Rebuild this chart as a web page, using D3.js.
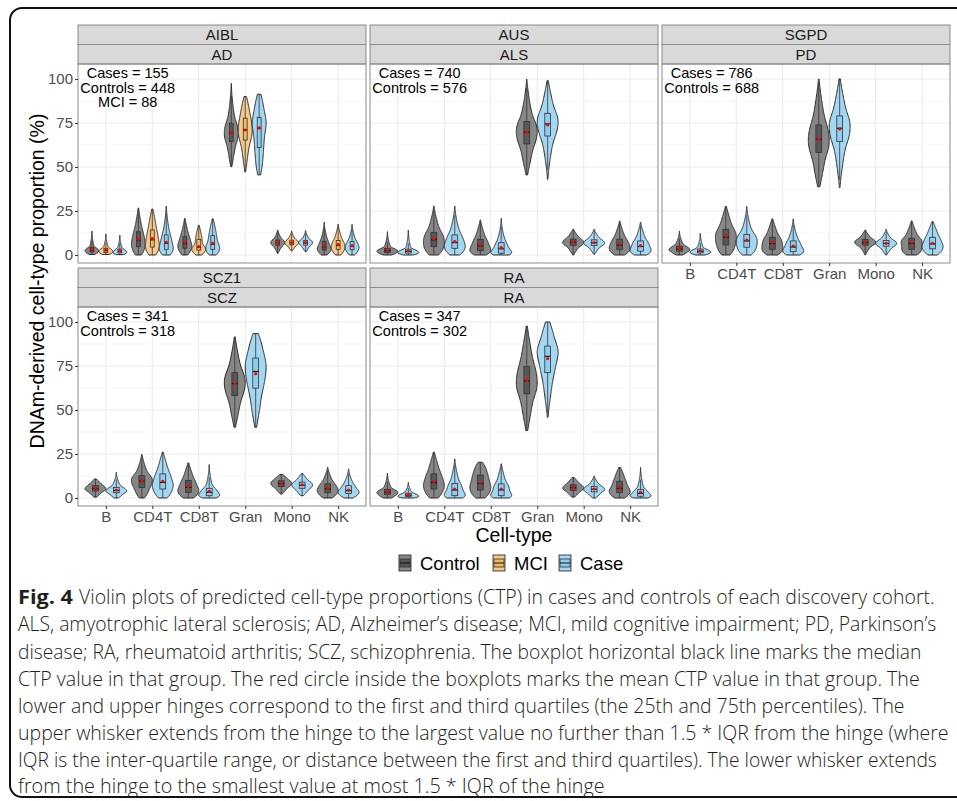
<!DOCTYPE html>
<html><head><meta charset="utf-8">
<script src="https://cdn.jsdelivr.net/npm/d3@7"></script>
<style>body{margin:0;background:#fff}svg{display:block}</style>
</head><body>
<svg id="c" width="957" height="801"></svg>
<script>
// ---------- data ----------
const cellTypes = ["B","CD4T","CD8T","Gran","Mono","NK"];
const cohorts = ["AIBL","AUS","SGPD","SCZ1","RA"];
const diseases = ["AD","ALS","PD","SCZ","RA"];
const annotations = [
  ["Cases = 155","Controls = 448","MCI = 88"],
  ["Cases = 740","Controls = 576"],
  ["Cases = 786","Controls = 688"],
  ["Cases = 341","Controls = 318"],
  ["Cases = 347","Controls = 302"]
];
const yTicks = [0,25,50,75,100];
const legendGroups = ["Control","MCI","Case"];
// each row: [min, q1, median, q3, max, mean] for B, CD4T, CD8T, Gran, Mono, NK
const aiblControl = [[0.3,1.8,2.8,4.2,13.6,3.2],[0,4.7,8.3,13.2,26.7,8.9],[0,3.8,6.5,10.4,20.8,7.2],[50.2,64.4,69.5,74.8,97.5,69.5],[1,5.5,7,8.5,14.2,7],[0,2.8,4.6,7.8,18.6,5.1]];
const aiblMCI     = [[0.3,1.5,2.5,3.8,11.9,2.8],[0,4.5,8.6,14.2,26.1,9.3],[0,2.8,4.3,8.9,16.9,4.7],[47.3,65.3,71.2,77.7,90,71.0],[2.4,5.8,7,8.4,13.6,7.1],[0,3.2,5.4,8.2,17.4,5.9]];
const aiblCase    = [[0.2,1.2,2.1,3.4,11.3,2.4],[0,3.2,6.6,11.4,27.8,7.2],[0,3.2,6.0,11,20.5,6.6],[45.5,61,72,78.2,91.3,72.2],[1.9,5.6,7,8.3,13.9,7],[0,3.0,5.0,7.6,17.4,5.3]];
const ausControl  = [[0,1.5,2.5,3.8,13.3,2.8],[0,4.7,8.6,12.9,27.8,9.3],[0,2.4,5.2,8.9,19.9,5.7],[45.5,63.1,69.7,75.8,99.8,69.7],[0,5.5,7.2,9,14.6,7.2],[0,3,5.6,9,19.3,6.1]];
const ausCase     = [[0,1.1,2.0,3.3,14.2,2.4],[0,3.8,7.0,11.4,27.8,7.6],[0,1.0,3.5,7.0,20.8,4.2],[43,67.6,74.5,80.5,99,73.9],[0.5,5.4,6.9,8.6,14.6,7.0],[0,2.2,4.8,8,18.6,5.3]];
const sgpdControl = [[0,2.2,3.4,5.0,13.6,3.8],[0,5.7,10.2,14.6,27.5,10.8],[0,3.2,6.5,10.1,20.5,7.0],[38.8,58.3,65.8,73.9,99.8,65.7],[0,5.6,7.2,8.8,14.2,7.2],[0,3.2,6.6,9.5,19.3,7.0]];
const sgpdCase    = [[0,1.2,2.1,3.4,12.3,2.4],[0,4.4,8.0,11.7,27.5,8.5],[0,1.9,4.5,8.0,20.5,5.1],[38.2,64.4,72,79,100,71.6],[0,5.0,6.6,8.2,14.6,6.6],[0,3.5,6.3,10,18.9,6.6]];
const sczControl  = [[0.5,4.0,5.4,7.0,10.8,5.5],[0,6.0,9.6,12.7,24.7,9.9],[0,3.2,6.0,9.9,19.9,6.4],[40.2,58.3,65,71.2,91.5,64.9],[2.3,6.5,8.2,9.8,13.3,8.3],[0,3.0,5.2,8,17.4,5.5]];
const sczCase     = [[0,3.0,4.3,6.0,14.6,4.5],[0,5.1,8.8,13.7,26,9.5],[0,1.3,3.2,5.5,19,3.8],[40.2,62.4,71.9,79.5,93.4,70.6],[1.3,5.5,7.3,9,13.9,7.4],[0,2.5,4.2,7,16.5,4.5]];
const raControl   = [[0,2.0,3.3,4.8,14.2,3.6],[0,5.1,8.8,13.7,26,9.3],[0,4.5,8.2,13,20.3,8.5],[38.3,59.2,66.5,74.8,97.6,66.8],[0.5,4.3,5.8,7.5,11.7,6.0],[0,3.0,5.5,9.5,17.4,6.0]];
const raCase      = [[0,0.8,1.6,2.7,8.9,1.9],[0,1.3,4.5,8.3,22.2,5.1],[0,1.3,4.6,8.0,19.4,5.1],[45.9,71.2,80.5,86.3,100,79.2],[0,3.5,5.0,6.6,12.5,5.1],[0,1.0,2.6,4.8,17.4,3.2]];
const panelGroups = [["Control","MCI","Case"],["Control","Case"],["Control","Case"],["Control","Case"],["Control","Case"]];
const panelStats = [[aiblControl,aiblMCI,aiblCase],[ausControl,ausCase],[sgpdControl,sgpdCase],[sczControl,sczCase],[raControl,raCase]];
const captionLines = [
  "Violin plots of predicted cell-type proportions (CTP) in cases and controls of each discovery cohort.",
  "ALS, amyotrophic lateral sclerosis; AD, Alzheimer’s disease; MCI, mild cognitive impairment; PD, Parkinson’s",
  "disease; RA, rheumatoid arthritis; SCZ, schizophrenia. The boxplot horizontal black line marks the median",
  "CTP value in that group. The red circle inside the boxplots marks the mean CTP value in that group. The",
  "lower and upper hinges correspond to the first and third quartiles (the 25th and 75th percentiles). The",
  "upper whisker extends from the hinge to the largest value no further than 1.5 * IQR from the hinge (where",
  "IQR is the inter-quartile range, or distance between the first and third quartiles). The lower whisker extends",
  "from the hinge to the smallest value at most 1.5 * IQR of the hinge"
];

// ---------- style / layout ----------
const fills = {Control:"#878787", MCI:"#f3ca8c", Case:"#a4d7f1"};
const boxFills = {Control:"#575757", MCI:"#f1bb62", Case:"#8fcdee"};
const colX = [78,370,662], panelW = 288;
const rowTop = [25,268], stripH = 19.5, plotH = 199;
const yDom = [-4.55,108.5];
const layout = [{c:0,r:0,yl:true,xl:false},{c:1,r:0,yl:false,xl:false},{c:2,r:0,yl:false,xl:true},{c:0,r:1,yl:true,xl:true},{c:1,r:1,yl:false,xl:true}];
const sans = "'Liberation Sans', Arial, sans-serif";

const svg = d3.select("#c");
svg.append("rect").attr("width",957).attr("height",801).attr("fill","#fff");
svg.append("rect").attr("x",10).attr("y",8).attr("width",1000).attr("height",789).attr("rx",12)
  .attr("fill","none").attr("stroke","#111").attr("stroke-width",2);

function violinProfile(s){
  const [mn,q1,md,q3,mx] = s;
  const iqr = Math.max(q3-q1,0.5);
  const lowL = q1-mn, upL = mx-q3;
  const pLo = 1 + Math.max(0, Math.min(1.6, lowL/iqr - 0.7));
  const pUp = 1 + Math.max(0, Math.min(1.8, upL/iqr - 0.6));
  const N = 300, pts = [];
  for (let i=0;i<N;i++){
    const u=(i+0.5)/N; let v;
    if (u<0.25){const t=u/0.25; v = q1 - lowL*(1-Math.pow(t,1/pLo));}
    else if (u<0.5){v = q1 + (md-q1)*(u-0.25)/0.25;}
    else if (u<0.75){v = md + (q3-md)*(u-0.5)/0.25;}
    else {const t=(u-0.75)/0.25; v = q3 + upL*(1-Math.pow(1-t,1/pUp));}
    pts.push(v);
  }
  const sd = d3.deviation(pts);
  const bw = 0.36*Math.min(sd, iqr/1.34);
  const M = 90, prof = [];
  for (let j=0;j<=M;j++){
    const g = mn + (mx-mn)*j/M;
    let d=0; for (const p of pts){const z=(g-p)/bw; d+=Math.exp(-0.5*z*z);}
    prof.push([g,d]);
  }
  const mxd = d3.max(prof,d=>d[1]);
  return prof.map(d=>[d[0],d[1]/mxd]);
}

layout.forEach((L,pi)=>{
  const x0 = colX[L.c], st = rowTop[L.r], pt = st+2*stripH, pb = pt+plotH;
  const x = d3.scalePoint().domain(cellTypes).range([x0,x0+panelW]).padding(0.6);
  const y = d3.scaleLinear().domain(yDom).range([pb,pt]);
  const g = svg.append("g");
  g.append("rect").attr("x",x0).attr("y",pt).attr("width",panelW).attr("height",plotH).attr("fill","#fff");
  // grid
  const minor = [12.5,37.5,62.5,87.5];
  g.selectAll(".mn").data(minor).join("line").attr("x1",x0).attr("x2",x0+panelW)
    .attr("y1",d=>y(d)).attr("y2",d=>y(d)).attr("stroke","#f3f3f3").attr("stroke-width",0.7);
  g.selectAll(".mj").data(yTicks).join("line").attr("x1",x0).attr("x2",x0+panelW)
    .attr("y1",d=>y(d)).attr("y2",d=>y(d)).attr("stroke","#ebebeb").attr("stroke-width",1.1);
  g.selectAll(".vx").data(cellTypes).join("line").attr("x1",d=>x(d)).attr("x2",d=>x(d))
    .attr("y1",pt).attr("y2",pb).attr("stroke","#ebebeb").attr("stroke-width",1.1);
  // strips
  [cohorts[pi],diseases[pi]].forEach((lab,k)=>{
    g.append("rect").attr("x",x0).attr("y",st+k*stripH).attr("width",panelW).attr("height",stripH)
      .attr("fill","#d9d9d9").attr("stroke","#8c8c8c").attr("stroke-width",1);
    g.append("text").attr("x",x0+panelW/2).attr("y",st+k*stripH+stripH/2).attr("dy","0.36em")
      .attr("text-anchor","middle").attr("font-family",sans).attr("font-size",15).attr("fill","#1a1a1a").text(lab);
  });
  // violins
  const groups = panelGroups[pi], n = groups.length, step = x.step();
  const hw = 0.45/n*step, bw2 = 0.125/n*step;
  groups.forEach((grp,k)=>{
    const off = (-0.45 + 0.9*(k+0.5)/n)*step;
    panelStats[pi][k].forEach((s,ci)=>{
      const cx = x(cellTypes[ci]) + off;
      const prof = violinProfile(s);
      const poly = prof.map(d=>[cx + d[1]*hw, y(d[0])]).concat(prof.slice().reverse().map(d=>[cx - d[1]*hw, y(d[0])]));
      g.append("path").attr("d", d3.line()(poly)+"Z").attr("fill",fills[grp]).attr("stroke","#2b2b2b").attr("stroke-width",1);
      const [mn,q1,md,q3,mx,mean] = s, iqr=q3-q1;
      const lo = Math.max(mn, q1-1.5*iqr), hi = Math.min(mx, q3+1.5*iqr);
      g.append("line").attr("x1",cx).attr("x2",cx).attr("y1",y(lo)).attr("y2",y(hi)).attr("stroke","#333").attr("stroke-width",0.8);
      g.append("rect").attr("x",cx-bw2).attr("width",2*bw2).attr("y",y(q3)).attr("height",y(q1)-y(q3))
        .attr("fill",boxFills[grp]).attr("stroke","#333").attr("stroke-width",0.8);
      g.append("line").attr("x1",cx-bw2).attr("x2",cx+bw2).attr("y1",y(md)).attr("y2",y(md)).attr("stroke","#111").attr("stroke-width",1.1);
      g.append("circle").attr("cx",cx).attr("cy",y(mean)).attr("r",1.6).attr("fill","#ff0000");
    });
  });
  // panel border
  g.append("rect").attr("x",x0).attr("y",pt).attr("width",panelW).attr("height",plotH)
    .attr("fill","none").attr("stroke","#8c8c8c").attr("stroke-width",1);
  // annotation
  const annY = [103.5,95.2,86.9];
  annotations[pi].forEach((t,k)=>{
    g.append("text").attr("x",x(cellTypes[0])+0.47*step).attr("y",y(annY[k])).attr("dy","0.36em")
      .attr("text-anchor","middle").attr("font-family",sans).attr("font-size",14.5).attr("fill","#000").text(t);
  });
  // axes
  if (L.yl){
    const ax = g.append("g").attr("transform",`translate(${x0},0)`).call(d3.axisLeft(y).tickValues(yTicks).tickSize(3).tickPadding(2));
    ax.select(".domain").remove();
    ax.selectAll("line").attr("stroke","#333");
    ax.selectAll("text").attr("font-family",sans).attr("font-size",15).attr("fill","#4d4d4d");
  }
  if (L.xl){
    const ax = g.append("g").attr("transform",`translate(0,${pb})`).call(d3.axisBottom(x).tickSize(3).tickPadding(2));
    ax.select(".domain").remove();
    ax.selectAll("line").attr("stroke","#333");
    ax.selectAll("text").attr("font-family",sans).attr("font-size",15).attr("fill","#4d4d4d");
  }
});

// axis titles
svg.append("text").attr("x",514).attr("y",535).attr("dy","0.36em").attr("text-anchor","middle")
  .attr("font-family",sans).attr("font-size",19.5).attr("fill","#000").text("Cell-type");
svg.append("text").attr("transform","translate(37,281) rotate(-90)").attr("dy","0.36em").attr("text-anchor","middle")
  .attr("font-family",sans).attr("font-size",19.5).attr("fill","#000").text("DNAm-derived cell-type proportion (%)");

// legend
const legX = [399,493,559];
legendGroups.forEach((grp,k)=>{
  const lx = legX[k], ly = 555;
  svg.append("rect").attr("x",lx).attr("y",ly).attr("width",12).attr("height",16).attr("fill",fills[grp]).attr("stroke","#333").attr("stroke-width",0.9);
  svg.append("rect").attr("x",lx+1).attr("y",ly+4).attr("width",10).attr("height",8).attr("fill",boxFills[grp]).attr("stroke","#333").attr("stroke-width",0.8);
  svg.append("line").attr("x1",lx+1).attr("x2",lx+11).attr("y1",ly+8).attr("y2",ly+8).attr("stroke","#111").attr("stroke-width",1);
  svg.append("text").attr("x",lx+21).attr("y",ly+8).attr("dy","0.36em").attr("font-family",sans)
    .attr("font-size",18.5).attr("fill","#000").text(grp);
});

// caption (horizontally condensed to match the reference line widths)
const capFont = "'Open Sans', 'Noto Sans', sans-serif";
const capY = [597,624,652,679,706,733,760,786];
const capEnd = [935,937,922,920,905,949,937,605];
function capText(x, y, endX, str, bold){
  const t = svg.append("text").attr("font-family",capFont).attr("font-size",20)
    .attr("font-weight", bold ? "bold" : 300).attr("fill","#231f20").attr("dy","0.36em").text(str);
  const w = t.node().getComputedTextLength();
  t.attr("transform",`translate(${x},${y}) scale(${(endX-x)/w},1)`);
}
captionLines.forEach((t,i)=>{
  if (i===0){
    capText(18, capY[i], 73, "Fig. 4", true);
    capText(79, capY[i], capEnd[i], t, false);
  } else {
    capText(18, capY[i], capEnd[i], t, false);
  }
});
</script>
</body></html>
